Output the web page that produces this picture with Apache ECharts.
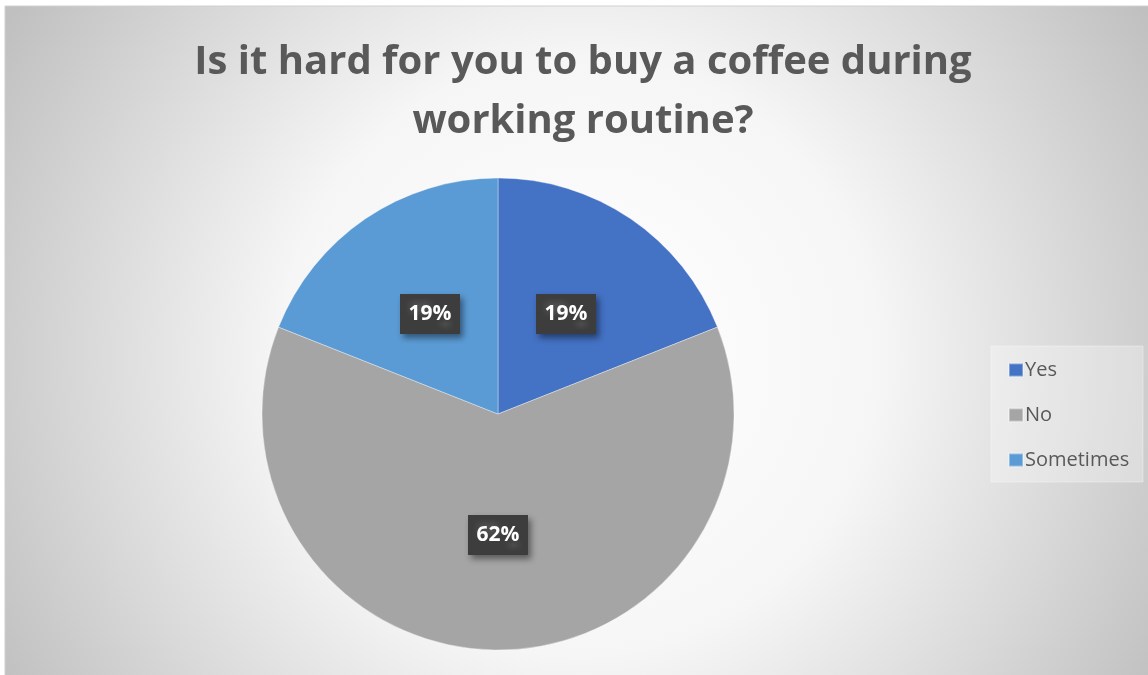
<!DOCTYPE html>
<html>
<head>
<meta charset="utf-8">
<script src="https://cdn.jsdelivr.net/npm/echarts@6/dist/echarts.min.js"></script>
<style>
  html, body { margin: 0; padding: 0; background: #ffffff; }
  #chart { width: 1148px; height: 675px; }
</style>
</head>
<body>
<div id="chart"></div>
<script>
// Survey answers and their shares (percent)
const categories = ['Yes', 'No', 'Sometimes'];
const shares = [19, 62, 19];
const sliceColors = ['#4472C4', '#A5A5A5', '#5B9BD5'];
const titleLines = ['Is it hard for you to buy a coffee during', 'working routine?'];

// Dotted dark fill used behind the percentage labels
function makeDotPattern() {
  const c = document.createElement('canvas');
  c.width = 6; c.height = 6;
  const g = c.getContext('2d');
  g.fillStyle = '#3d3d3d';
  g.fillRect(0, 0, 6, 6);
  g.fillStyle = '#4e4e4e';
  g.fillRect(1, 1, 2, 2);
  g.fillRect(4, 4, 1, 1);
  return c;
}
const dots = makeDotPattern();

const chart = echarts.init(document.getElementById('chart'), null, { renderer: 'canvas' });

const option = {
  backgroundColor: '#ffffff',
  animation: false,
  graphic: [
    {
      type: 'rect',
      z: -10,
      shape: { x: 5, y: 6, width: 1150, height: 675 },
      style: {
        fill: {
          type: 'radial', x: 0.5, y: 0.52, r: 0.98,
          colorStops: [
            { offset: 0, color: '#ffffff' },
            { offset: 0.45, color: '#f6f6f6' },
            { offset: 1, color: '#c0c0c0' }
          ]
        },
        stroke: '#d0d0d0',
        lineWidth: 1
      }
    },
    {
      type: 'rect',
      z: -5,
      shape: { x: 991, y: 346, width: 152, height: 136 },
      style: { fill: 'rgba(255,255,255,0.3)', stroke: 'rgba(255,255,255,0.35)', lineWidth: 1 }
    }
  ],
  title: {
    text: titleLines.join('\n'),
    left: 578,
    top: 28,
    textAlign: 'center',
    textStyle: {
      fontFamily: 'Open Sans',
      fontWeight: 'bold',
      fontSize: 40,
      lineHeight: 59,
      color: '#595959'
    }
  },
  legend: {
    orient: 'vertical',
    left: 1003,
    top: 354,
    itemWidth: 14,
    itemHeight: 13,
    itemGap: 23,
    icon: 'rect',
    data: categories,
    textStyle: {
      fontFamily: 'Open Sans',
      fontSize: 20,
      lineHeight: 22,
      color: '#595959',
      padding: [0, 0, 0, -3]
    }
  },
  series: [
    {
      type: 'pie',
      center: [498, 414],
      radius: [0, 236],
      startAngle: 90,
      clockwise: true,
      itemStyle: { borderColor: 'rgba(255,255,255,0.35)', borderWidth: 1 },
      label: {
        show: true,
        position: 'inside',
        formatter: function (p) { return p.value + '%'; },
        fontFamily: 'Open Sans',
        fontWeight: 'bold',
        fontSize: 21,
        color: '#ffffff',
        backgroundColor: { image: dots, repeat: 'repeat' },
        padding: [10, 9, 9, 9],
        shadowColor: 'rgba(0,0,0,0.45)',
        shadowBlur: 6,
        shadowOffsetX: 3,
        shadowOffsetY: 4
      },
      labelLine: { show: false },
      emphasis: { disabled: true },
      data: categories.map(function (name, i) {
        return { name: name, value: shares[i], itemStyle: { color: sliceColors[i] } };
      })
    }
  ]
};

chart.setOption(option);
</script>
</body>
</html>
